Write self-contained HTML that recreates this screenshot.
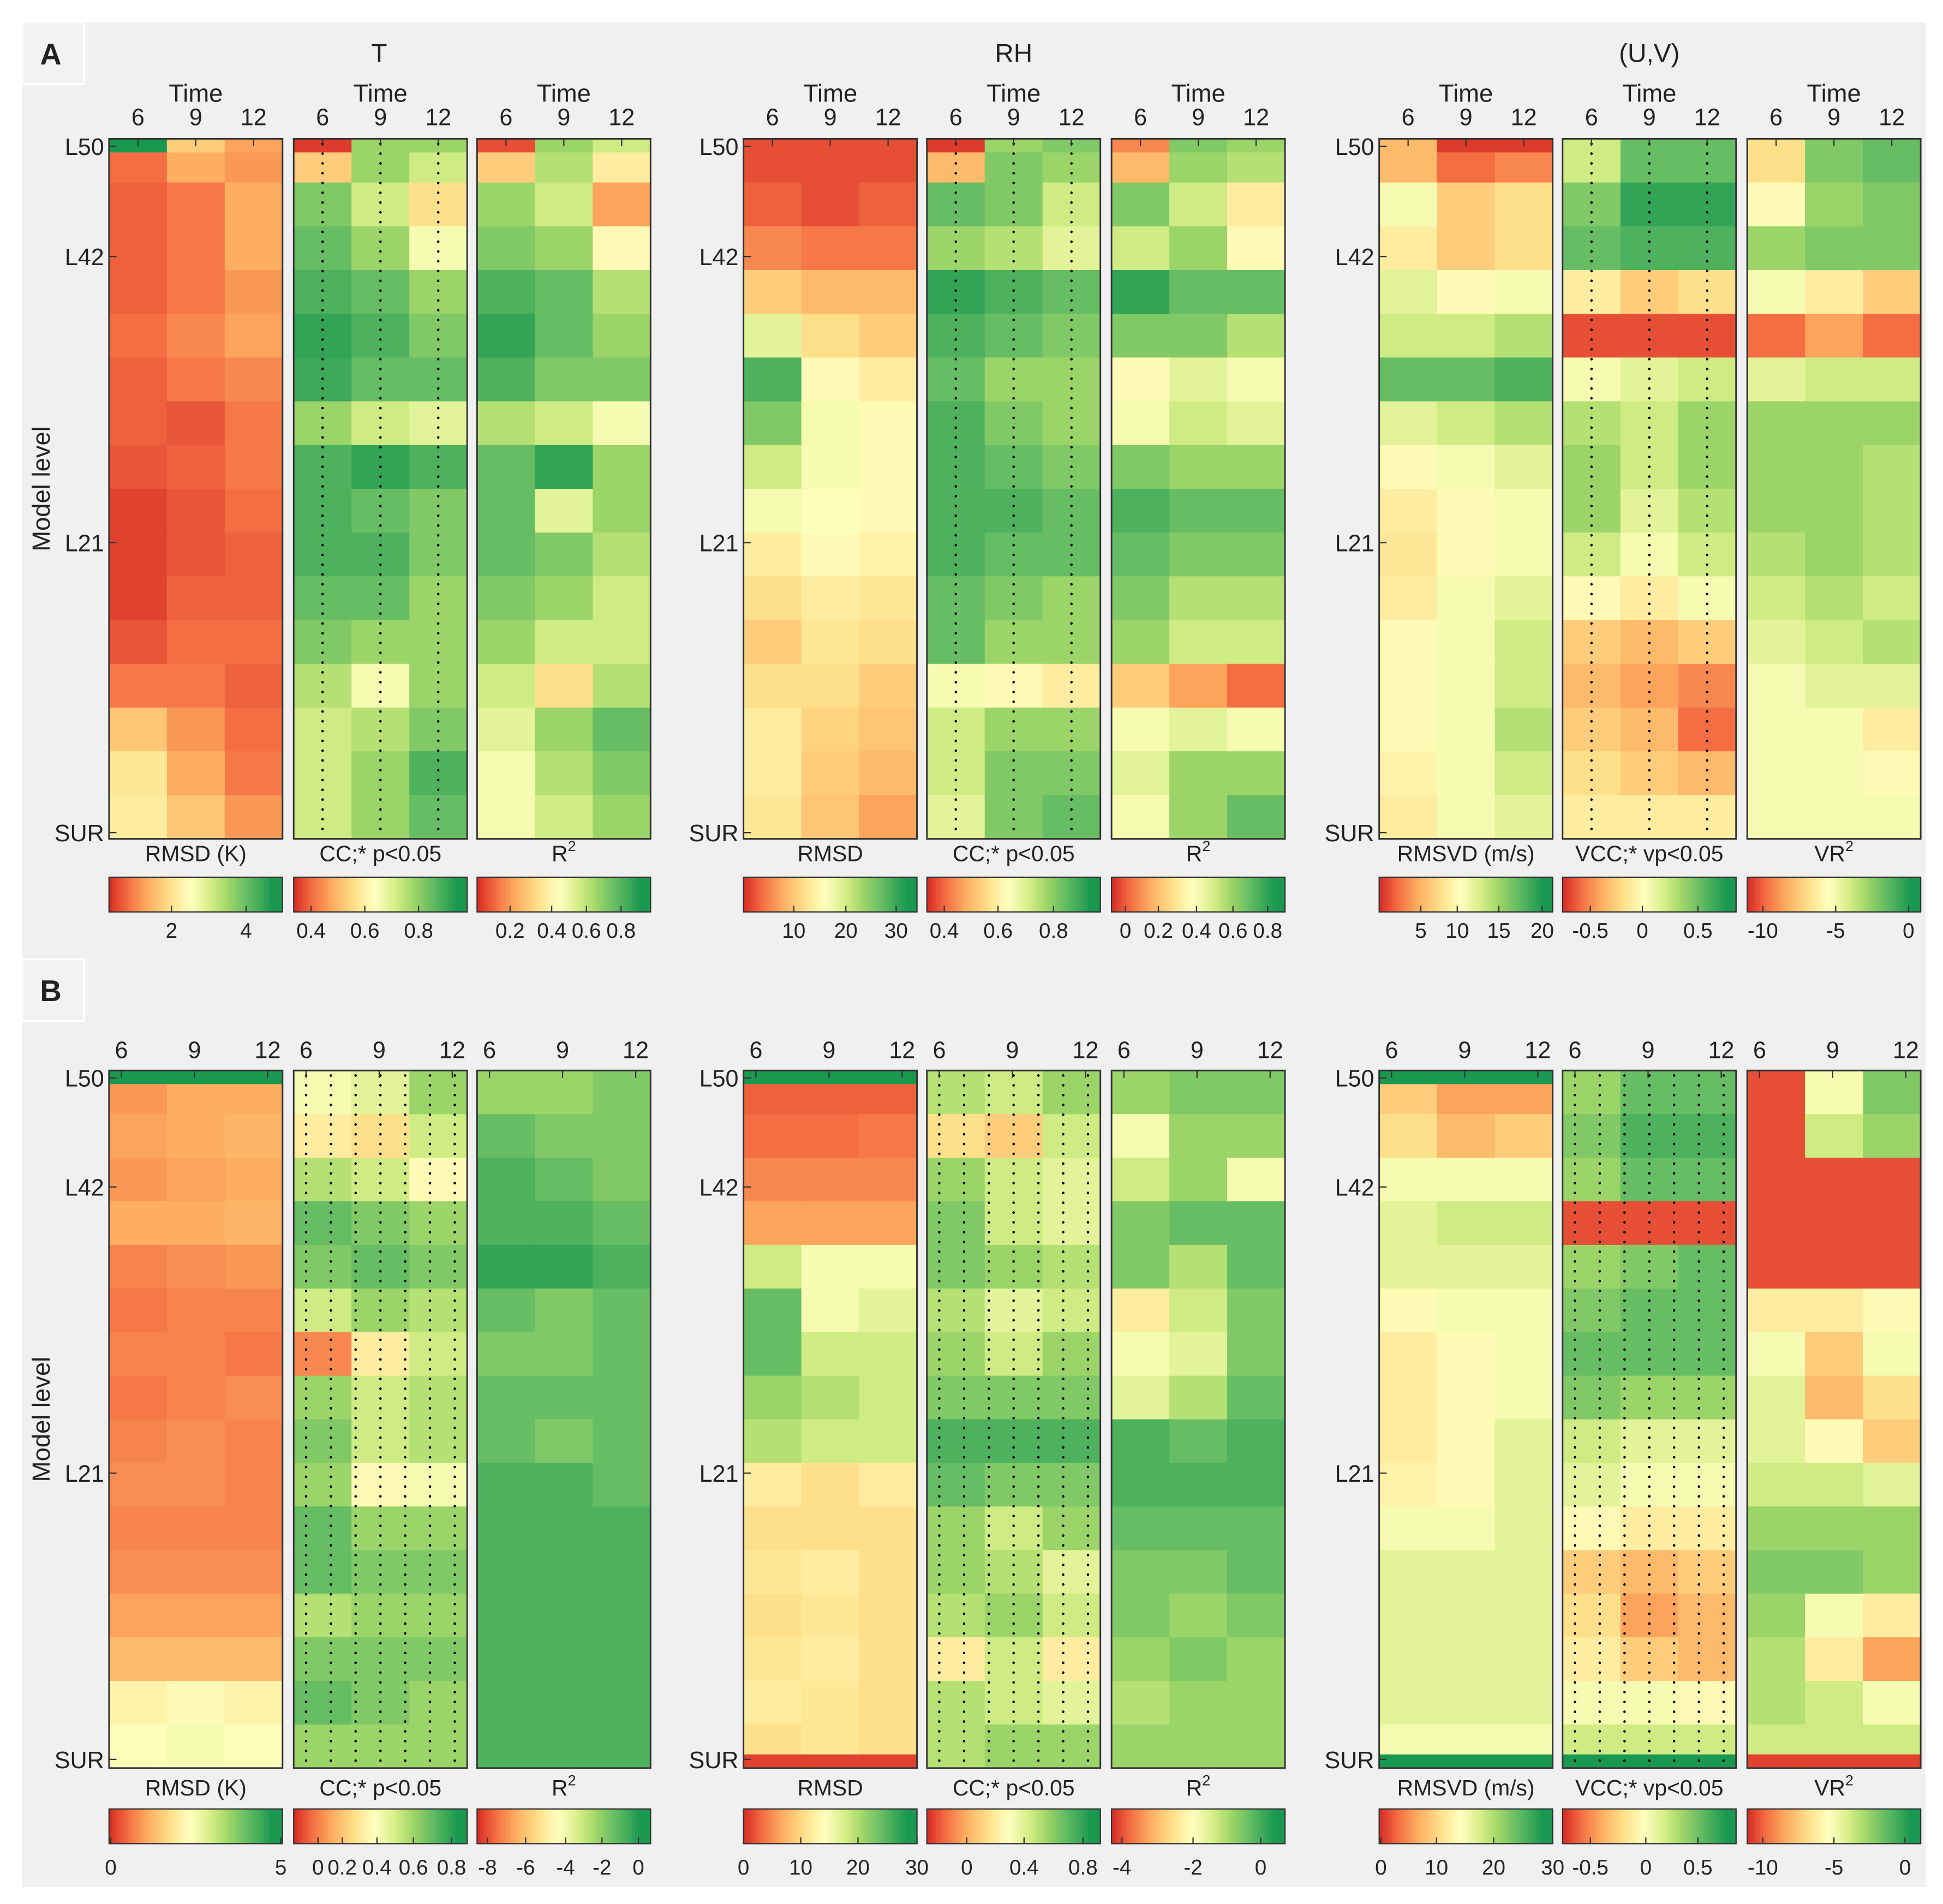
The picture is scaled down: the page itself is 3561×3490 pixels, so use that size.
<!DOCTYPE html>
<html><head><meta charset="utf-8"><style>
html,body{margin:0;padding:0;background:#fff;}
svg{display:block;}
text{font-family:"Liberation Sans",Arial,sans-serif;fill:#222;}
</style></head><body>
<svg id="fig" width="3561" height="3490" viewBox="0 0 1568 1536.7" xmlns="http://www.w3.org/2000/svg">
<rect x="0" y="0" width="1568" height="1537" fill="#ffffff"/>
<rect x="18" y="18" width="1536" height="1505" fill="#f0f0f0"/>
<g id="root"></g>
</svg>
<script>
// ---- data (normalized score 0=red .. 1=green), rows top(L50) -> bottom(SUR), cols = time 6,9,12 ----
const timeLabels = ["6","9","12"];
const yLevelLabels = ["L50","L42","L21","SUR"];
const A_T_RMSD=[[0.1,0.22,0.18],[0.08,0.12,0.22],[0.08,0.12,0.22],[0.08,0.12,0.18],[0.1,0.15,0.2],[0.08,0.12,0.15],[0.08,0.06,0.12],[0.06,0.08,0.12],[0.03,0.06,0.1],[0.03,0.06,0.08],[0.03,0.08,0.08],[0.06,0.1,0.1],[0.12,0.12,0.08],[0.28,0.18,0.1],[0.38,0.22,0.12],[0.4,0.28,0.18]];
const A_T_CC=[[0.3,0.7,0.6],[0.75,0.6,0.35],[0.8,0.7,0.5],[0.85,0.8,0.7],[0.9,0.85,0.75],[0.88,0.8,0.8],[0.7,0.6,0.55],[0.85,0.9,0.85],[0.85,0.8,0.75],[0.85,0.85,0.75],[0.8,0.8,0.7],[0.75,0.7,0.7],[0.65,0.5,0.7],[0.6,0.65,0.75],[0.6,0.7,0.85],[0.6,0.7,0.8]];
const A_T_R2=[[0.3,0.65,0.4],[0.7,0.6,0.2],[0.75,0.7,0.45],[0.85,0.8,0.65],[0.9,0.8,0.7],[0.85,0.75,0.75],[0.65,0.6,0.5],[0.8,0.9,0.7],[0.8,0.55,0.7],[0.8,0.75,0.65],[0.75,0.7,0.6],[0.7,0.6,0.6],[0.6,0.35,0.65],[0.55,0.7,0.8],[0.5,0.65,0.75],[0.5,0.6,0.7]];
const A_RH_RMSD=[[0.05,0.05,0.05],[0.08,0.05,0.08],[0.15,0.12,0.12],[0.3,0.25,0.25],[0.55,0.35,0.3],[0.85,0.45,0.4],[0.75,0.5,0.45],[0.6,0.5,0.45],[0.5,0.48,0.45],[0.4,0.45,0.42],[0.35,0.4,0.38],[0.3,0.38,0.35],[0.35,0.35,0.3],[0.4,0.32,0.28],[0.4,0.3,0.25],[0.38,0.28,0.2]];
const A_RH_CC=[[0.25,0.75,0.7],[0.8,0.75,0.6],[0.7,0.65,0.55],[0.9,0.85,0.8],[0.85,0.8,0.75],[0.8,0.7,0.7],[0.85,0.75,0.7],[0.85,0.8,0.75],[0.85,0.85,0.8],[0.85,0.8,0.8],[0.8,0.75,0.7],[0.8,0.7,0.7],[0.5,0.45,0.4],[0.6,0.7,0.7],[0.6,0.75,0.75],[0.55,0.75,0.8]];
const A_RH_R2=[[0.25,0.7,0.65],[0.75,0.6,0.4],[0.6,0.7,0.45],[0.9,0.8,0.8],[0.75,0.75,0.65],[0.45,0.55,0.5],[0.5,0.6,0.55],[0.75,0.7,0.7],[0.85,0.8,0.8],[0.8,0.75,0.75],[0.75,0.65,0.65],[0.7,0.6,0.6],[0.3,0.2,0.1],[0.5,0.55,0.5],[0.55,0.7,0.7],[0.5,0.7,0.8]];
const A_UV_RMSVD=[[0.25,0.1,0.15],[0.5,0.3,0.35],[0.4,0.3,0.35],[0.55,0.45,0.5],[0.6,0.6,0.65],[0.8,0.8,0.85],[0.55,0.6,0.65],[0.45,0.5,0.55],[0.4,0.45,0.5],[0.38,0.45,0.5],[0.4,0.5,0.55],[0.45,0.5,0.6],[0.45,0.5,0.6],[0.45,0.5,0.65],[0.42,0.5,0.6],[0.4,0.5,0.55]];
const A_UV_VCC=[[0.6,0.8,0.8],[0.75,0.9,0.9],[0.8,0.85,0.85],[0.4,0.3,0.35],[0.05,0.05,0.05],[0.5,0.55,0.6],[0.65,0.6,0.7],[0.7,0.6,0.7],[0.7,0.55,0.65],[0.6,0.5,0.6],[0.45,0.4,0.5],[0.3,0.25,0.3],[0.25,0.2,0.15],[0.3,0.25,0.1],[0.35,0.3,0.25],[0.4,0.4,0.4]];
const A_UV_VR2=[[0.35,0.75,0.8],[0.45,0.7,0.75],[0.7,0.75,0.75],[0.5,0.4,0.3],[0.1,0.2,0.1],[0.55,0.6,0.6],[0.7,0.7,0.7],[0.7,0.7,0.65],[0.7,0.7,0.65],[0.65,0.7,0.65],[0.6,0.65,0.6],[0.55,0.6,0.65],[0.5,0.55,0.55],[0.5,0.5,0.4],[0.5,0.5,0.45],[0.5,0.5,0.5]];
const B_T_RMSD=[[0.18,0.22,0.22],[0.2,0.22,0.24],[0.18,0.2,0.22],[0.22,0.22,0.24],[0.14,0.16,0.18],[0.12,0.14,0.14],[0.14,0.14,0.12],[0.12,0.14,0.16],[0.14,0.16,0.14],[0.16,0.16,0.14],[0.14,0.14,0.14],[0.16,0.16,0.16],[0.2,0.2,0.2],[0.25,0.25,0.25],[0.42,0.45,0.42],[0.48,0.5,0.48]];
const B_T_CC=[[0.5,0.55,0.7],[0.4,0.35,0.6],[0.65,0.6,0.45],[0.8,0.75,0.7],[0.75,0.8,0.75],[0.6,0.7,0.65],[0.15,0.4,0.6],[0.7,0.6,0.65],[0.75,0.6,0.65],[0.7,0.45,0.5],[0.8,0.7,0.7],[0.8,0.75,0.75],[0.65,0.7,0.7],[0.75,0.75,0.75],[0.8,0.75,0.7],[0.7,0.7,0.7]];
const B_T_R2=[[0.7,0.7,0.75],[0.8,0.75,0.75],[0.85,0.8,0.75],[0.85,0.85,0.8],[0.9,0.9,0.85],[0.8,0.75,0.8],[0.75,0.75,0.8],[0.8,0.8,0.8],[0.8,0.75,0.8],[0.85,0.85,0.8],[0.85,0.85,0.85],[0.85,0.85,0.85],[0.85,0.85,0.85],[0.85,0.85,0.85],[0.85,0.85,0.85],[0.85,0.85,0.85]];
const B_RH_RMSD=[[0.08,0.08,0.08],[0.1,0.1,0.12],[0.15,0.15,0.15],[0.2,0.2,0.2],[0.6,0.5,0.5],[0.8,0.5,0.55],[0.8,0.6,0.6],[0.7,0.65,0.6],[0.65,0.6,0.6],[0.4,0.35,0.4],[0.35,0.35,0.35],[0.38,0.4,0.35],[0.35,0.38,0.35],[0.38,0.4,0.35],[0.4,0.38,0.35],[0.35,0.38,0.35]];
const B_RH_CC=[[0.65,0.6,0.7],[0.35,0.3,0.6],[0.7,0.6,0.55],[0.75,0.6,0.55],[0.75,0.7,0.65],[0.65,0.55,0.6],[0.7,0.6,0.7],[0.75,0.75,0.75],[0.85,0.85,0.85],[0.8,0.75,0.75],[0.7,0.6,0.7],[0.7,0.65,0.55],[0.65,0.7,0.6],[0.4,0.6,0.4],[0.65,0.6,0.55],[0.65,0.7,0.7]];
const B_RH_R2=[[0.7,0.75,0.75],[0.5,0.7,0.7],[0.6,0.7,0.5],[0.75,0.8,0.8],[0.75,0.65,0.8],[0.4,0.6,0.75],[0.5,0.55,0.75],[0.55,0.65,0.8],[0.85,0.8,0.85],[0.85,0.85,0.85],[0.8,0.8,0.8],[0.75,0.75,0.8],[0.75,0.7,0.75],[0.7,0.75,0.7],[0.65,0.7,0.7],[0.7,0.7,0.7]];
const B_UV_RMSVD=[[0.3,0.2,0.2],[0.35,0.25,0.3],[0.5,0.5,0.5],[0.55,0.6,0.6],[0.55,0.55,0.55],[0.45,0.5,0.5],[0.4,0.45,0.5],[0.4,0.45,0.5],[0.4,0.45,0.55],[0.42,0.45,0.55],[0.5,0.5,0.55],[0.55,0.55,0.55],[0.55,0.55,0.55],[0.55,0.55,0.55],[0.55,0.55,0.55],[0.5,0.5,0.5]];
const B_UV_VCC=[[0.7,0.8,0.8],[0.75,0.85,0.85],[0.7,0.8,0.8],[0.05,0.05,0.05],[0.7,0.75,0.8],[0.75,0.8,0.8],[0.8,0.8,0.8],[0.75,0.7,0.7],[0.6,0.55,0.55],[0.55,0.5,0.5],[0.45,0.4,0.4],[0.3,0.25,0.3],[0.35,0.2,0.25],[0.4,0.3,0.25],[0.5,0.5,0.45],[0.6,0.6,0.6]];
const B_UV_VR2=[[0.05,0.5,0.75],[0.05,0.6,0.7],[0.05,0.05,0.05],[0.05,0.05,0.05],[0.05,0.05,0.05],[0.4,0.4,0.45],[0.5,0.3,0.5],[0.55,0.25,0.35],[0.55,0.45,0.3],[0.6,0.6,0.55],[0.7,0.7,0.7],[0.75,0.75,0.7],[0.7,0.5,0.4],[0.65,0.4,0.2],[0.65,0.6,0.5],[0.6,0.6,0.6]];
// thin edge strips (top / bottom) score per column
const A_T_RMSD_top=[0.95,0.3,0.2];
const A_T_CC_top=[0.02,0.7,0.7];
const A_T_R2_top=[0.05,0.7,0.6];
const A_RH_CC_top=[0.02,0.7,0.75];
const A_RH_R2_top=[0.15,0.75,0.7];
const A_UV_RMSVD_top=[0.25,0.02,0.02];
const B_top_green=[0.97,0.97,0.97];
const B_RH_RMSD_bottom=[0.03,0.03,0.03];
const B_UV_bottom_green=[0.97,0.97,0.97];
const B_UV_VR2_bottom=[0.03,0.03,0.03];
// colorbar tick labels
const cbA=[["2","4"],["0.4","0.6","0.8"],["0.2","0.4","0.6","0.8"],["10","20","30"],["0.4","0.6","0.8"],["0","0.2","0.4","0.6","0.8"],["5","10","15","20"],["-0.5","0","0.5"],["-10","-5","0"]];
const cbAfrac=[[0.36,0.79],[0.1,0.41,0.72],[0.19,0.43,0.63,0.83],[0.29,0.59,0.88],[0.1,0.41,0.73],[0.08,0.27,0.49,0.7,0.9],[0.24,0.45,0.69,0.94],[0.16,0.46,0.78],[0.09,0.51,0.93]];
const cbB=[["0","5"],["0","0.2","0.4","0.6","0.8"],["-8","-6","-4","-2","0"],["0","10","20","30"],["0","0.4","0.8"],["-4","-2","0"],["0","10","20","30"],["-0.5","0","0.5"],["-10","-5","0"]];
const cbBfrac=[[0.01,0.99],[0.14,0.28,0.48,0.69,0.91],[0.06,0.28,0.51,0.72,0.93],[0.0,0.33,0.66,1.0],[0.23,0.56,0.9],[0.06,0.47,0.86],[0.01,0.33,0.66,1.0],[0.16,0.48,0.78],[0.09,0.5,0.91]];
const panelLabels=["RMSD (K)","CC;* p<0.05","R2","RMSD","CC;* p<0.05","R2","RMSVD (m/s)","VCC;* vp<0.05","VR2"];

// ---- drawing ----
const NS="http://www.w3.org/2000/svg";
const root=document.getElementById('root');
function mk(tag,attrs,parent){const e=document.createElementNS(NS,tag);for(const k in attrs)e.setAttribute(k,attrs[k]);(parent||root).appendChild(e);return e;}
const stops=["#d73027","#f46d43","#fdae61","#fee08b","#ffffbf","#d9ef8b","#a6d96a","#66bd63","#1a9850"];
const stopPos=[0,0.1,0.22,0.35,0.47,0.58,0.68,0.8,0.95];
function hex(h){return [1,3,5].map(i=>parseInt(h.substr(i,2),16));}
function cmap(v){v=Math.max(0,Math.min(1,v));let i=0;while(i<stops.length-2&&v>stopPos[i+1])i++;
 let t=(v-stopPos[i])/(stopPos[i+1]-stopPos[i]);t=Math.max(0,Math.min(1,t));
 const a=hex(stops[i]),b=hex(stops[i+1]);return "rgb("+a.map((x,k)=>Math.round(x+(b[k]-x)*t)).join(",")+")";}

const colX=[88,237,385,600,748,897,1113,1261,1410];
const PW=140;
const rows=[
 {name:'A',top:112,bot:677,data:[A_T_RMSD,A_T_CC,A_T_R2,A_RH_RMSD,A_RH_CC,A_RH_R2,A_UV_RMSVD,A_UV_VCC,A_UV_VR2],
  tops:[A_T_RMSD_top,A_T_CC_top,A_T_R2_top,null,A_RH_CC_top,A_RH_R2_top,A_UV_RMSVD_top,null,null],bots:[],
  ylev:[118,207,438,672],labY:695,cbY:708,cbT:757,cb:cbA,cbf:cbAfrac,tickY:101,timeY:82,edge:false,dots:[1,4,7]},
 {name:'B',top:864,bot:1427,data:[B_T_RMSD,B_T_CC,B_T_R2,B_RH_RMSD,B_RH_CC,B_RH_R2,B_UV_RMSVD,B_UV_VCC,B_UV_VR2],
  tops:[B_top_green,null,null,B_top_green,null,null,B_top_green,null,null],bots:[null,null,null,B_RH_RMSD_bottom,null,null,B_UV_bottom_green,B_UV_bottom_green,B_UV_VR2_bottom],
  ylev:[870,958,1189,1420],labY:1449,cbY:1460,cbT:1513,cb:cbB,cbf:cbBfrac,tickY:854,timeY:null,edge:true,dots:[1,4,7]}
];
const yScale=(row,i,n)=>row.top+(row.bot-row.top)*i/n;

rows.forEach(row=>{
 row.data.forEach((d,p)=>{
  const x0=colX[p];const g=mk('g',{});
  
  
  const n=d.length, nc=d[0].length, cw=PW/nc;
  d.forEach((r,i)=>r.forEach((v,j)=>{
   const c=mk('rect',{x:x0+j*cw,y:yScale(row,i,n),width:cw+0.5,height:(row.bot-row.top)/n+0.5,fill:cmap(v)},g);
   
   
  }));
  if(row.tops[p]){row.tops[p].forEach((v,j)=>{mk('rect',{x:x0+j*cw,y:row.top,width:cw+0.5,height:11,fill:cmap(v)},g);});}
  if(row.bots[p]){row.bots[p].forEach((v,j)=>{mk('rect',{x:x0+j*cw,y:row.bot-11,width:cw+0.5,height:11,fill:cmap(v)},g);});}
  if(row.dots.includes(p)){
   const nd=row.edge?7:3;
   for(let k=0;k<nd;k++){const xx=row.edge?x0+PW*(k+0.5)/7:x0+PW*(k+0.5)/3;
    const l=mk('line',{x1:xx,y1:row.top+4,x2:xx,y2:row.bot-3,stroke:'#000','stroke-width':2,'stroke-dasharray':'0.1 7.8','stroke-linecap':'round'},g);
    
    }
  }
  const fr=mk('rect',{x:x0,y:row.top,width:PW,height:row.bot-row.top,fill:'none',stroke:'#333','stroke-width':1.3},g);
  
  
  timeLabels.forEach((t,j)=>{
   const xx=row.edge?x0+10+j*59:x0+PW*(j+0.5)/3;
   mk('line',{x1:xx,y1:row.top,x2:xx,y2:row.top+6,stroke:'#333','stroke-width':1},g);
   const tx=mk('text',{x:xx,y:row.tickY,'font-size':19,'text-anchor':'middle'},g);tx.textContent=t;
   
   
  });
  if(row.timeY){const tt=mk('text',{x:x0+PW/2,y:row.timeY,'font-size':20,'text-anchor':'middle'},g);tt.textContent='Time';
   
   }
  if(p%3===0){yLevelLabels.forEach((lab,k)=>{
   const yy=row.ylev[k];mk('line',{x1:x0,y1:yy,x2:x0+6,y2:yy,stroke:'#333','stroke-width':1},g);
   const tx=mk('text',{x:x0-4,y:yy+7,'font-size':19,'text-anchor':'end'},g);tx.textContent=lab;
   
   
  });}
  const lbl=panelLabels[p];const lt=mk('text',{x:x0+PW/2,y:row.labY,'font-size':18,'text-anchor':'middle'},g);
  if(lbl.endsWith('R2')){lt.textContent=lbl.slice(0,-1);const s=mk('tspan',{'font-size':12,dy:-8},lt);s.textContent='2';}else lt.textContent=lbl;
  
  
  const cb=mk('g',{});
  
  
  for(let k=0;k<56;k++){mk('rect',{x:x0+k*PW/56,y:row.cbY,width:PW/56+0.4,height:28,fill:cmap(k/55)},cb);}
  mk('rect',{x:x0,y:row.cbY,width:PW,height:28,fill:'none',stroke:'#333','stroke-width':1},cb);
  row.cb[p].forEach((t,k)=>{const xx=x0+PW*row.cbf[p][k];
   mk('line',{x1:xx,y1:row.cbY+28,x2:xx,y2:row.cbY+23,stroke:'#333','stroke-width':1},cb);
   const tx=mk('text',{x:xx,y:row.cbT,'font-size':17,'text-anchor':'middle'},cb);tx.textContent=t;
   
   });
 });
 const yc=(row.top+row.bot)/2;
 const yt=mk('text',{x:40,y:yc,'font-size':20,'text-anchor':'middle',transform:'rotate(-90 40 '+yc+')'});yt.textContent='Model level';
 
 
});
[['A',18,18],['B',18,774]].forEach(([t,x,y])=>{
 const b=mk('rect',{x:x,y:y,width:50,height:50,fill:'#f2f2f2',stroke:'#fff','stroke-width':1.5});
 
 
 const tx=mk('text',{x:x+23,y:y+34,'font-size':24,'font-weight':'bold','text-anchor':'middle'});tx.textContent=t;
 
 
});
[['T',306],['RH',818],['(U,V)',1331]].forEach(([t,x])=>{
 const tx=mk('text',{x:x,y:50,'font-size':21,'text-anchor':'middle'});tx.textContent=t;
 
 
});
</script>
</body></html>
